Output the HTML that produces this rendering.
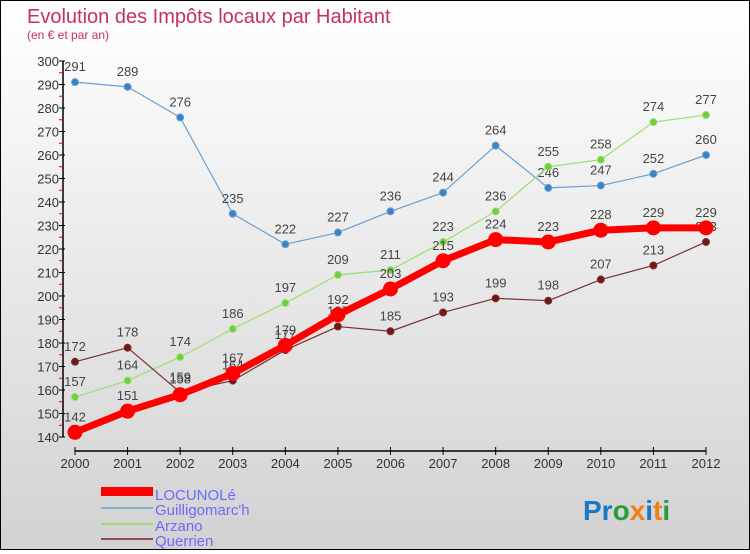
<!DOCTYPE html>
<html><head><meta charset="utf-8">
<style>
html,body{margin:0;padding:0}
body{width:750px;height:550px;overflow:hidden;font-family:"Liberation Sans",sans-serif}
#wrap{position:relative;width:748px;height:548px;border:1px solid #000;background:linear-gradient(#ffffff,#d2d2d2)}
</style></head>
<body>
<div id="wrap">
<svg id="chart" width="748" height="548">
<text x="26" y="22" font-size="20" fill="#c8305c">Evolution des Impôts locaux par Habitant</text>
<text x="26" y="38" font-size="12" fill="#c8305c">(en € et par an)</text>
<g id="axes"></g>
<g id="series"></g>
<g id="legend">
<rect x="100" y="486" width="52" height="9" fill="#f00"/>
<text x="154" y="499" font-size="15" fill="#6a6aff">LOCUNOLé</text>
<rect x="100" y="506" width="52" height="2" fill="#7fb2d8"/>
<text x="154" y="514" font-size="15" fill="#6a6aff">Guilligomarc'h</text>
<rect x="100" y="522" width="52" height="2" fill="#98e070"/>
<text x="154" y="530" font-size="15" fill="#6a6aff">Arzano</text>
<rect x="100" y="537" width="52" height="2" fill="#8a5050"/>
<text x="154" y="545" font-size="15" fill="#6a6aff">Querrien</text>
</g>
<text x="582" y="519" font-size="28" font-weight="bold"><tspan fill="#1a78c8">Pr</tspan><tspan fill="#2a9a3a">o</tspan><tspan fill="#f08010">x</tspan><tspan fill="#1a78c8">i</tspan><tspan fill="#f08010">t</tspan><tspan fill="#2a9a3a">i</tspan></text>
</svg>
</div>
<script>
const years = [2000,2001,2002,2003,2004,2005,2006,2007,2008,2009,2010,2011,2012];
const yTicks = [140,150,160,170,180,190,200,210,220,230,240,250,260,270,280,290,300];
const locunole = [142,151,158,167,179,192,203,215,224,223,228,229,229];
const guilligomarch = [291,289,276,235,222,227,236,244,264,246,247,252,260];
const arzano = [157,164,174,186,197,209,211,223,236,255,258,274,277];
const querrien = [172,178,159,164,177,187,185,193,199,198,207,213,223];

const NS="http://www.w3.org/2000/svg";
const x0=74,x1=705,yMin=140,yMax=300,py0=436,py1=60;
function xs(i){return x0+(x1-x0)*i/(years.length-1);}
function ys(v){return py0-(v-yMin)*(py0-py1)/(yMax-yMin);}
function mk(tag,attrs,parent){const e=document.createElementNS(NS,tag);for(const k in attrs)e.setAttribute(k,attrs[k]);parent.appendChild(e);return e;}
const axes=document.getElementById('axes');
const yl=mk('line',{x1:62,y1:py1,x2:62,y2:py0,stroke:'#000','stroke-width':1.5},axes);


yTicks.forEach(function(t,i){
  const y=ys(t);
  mk('line',{x1:58,y1:y,x2:64,y2:y,stroke:'#000'},axes);
  if(i<yTicks.length-1) mk('line',{x1:58,y1:y-(py0-py1)/32,x2:61,y2:y-(py0-py1)/32,stroke:'#f00'},axes);
  const tx=mk('text',{x:58,y:y+5,'font-size':13,fill:'#333','text-anchor':'end'},axes);
  tx.textContent=t;
  
  
});
const xl=mk('line',{x1:x0,y1:450,x2:x1,y2:450,stroke:'#000','stroke-width':1.5},axes);


years.forEach(function(yr,i){
  const x=xs(i);
  mk('line',{x1:x,y1:446,x2:x,y2:454,stroke:'#000'},axes);
  const tx=mk('text',{x:x,y:467,'font-size':13,fill:'#333','text-anchor':'middle'},axes);
  tx.textContent=yr;
  
  
});
const sg=document.getElementById('series');
function drawSeries(vals,name,color,w,r,dot){
  const g=mk('g',{},sg);
  
  
  const pts=vals.map(function(v,i){return xs(i)+','+ys(v);}).join(' ');
  mk('polyline',{points:pts,fill:'none',stroke:color,'stroke-width':w,'stroke-linejoin':'round'},g);
  vals.forEach(function(v,i){
    const c=mk('circle',{cx:xs(i),cy:ys(v),r:r,fill:dot,stroke:color,'stroke-width':1},g);
    
    
    const t=mk('text',{x:xs(i),y:ys(v)-11,'font-size':13,fill:'#444','text-anchor':'middle'},g);
    t.textContent=v;
    
    
  });
}
drawSeries(guilligomarch,'guilligomarch','#6aa0d0',1.2,3.5,'#3a82c4');
drawSeries(arzano,'arzano','#9be070',1.2,3.5,'#70cc40');
drawSeries(querrien,'querrien','#7a3030',1.2,3.5,'#701818');
drawSeries(locunole,'locunole','#f00',7,7,'#f00');
</script>
</body></html>
